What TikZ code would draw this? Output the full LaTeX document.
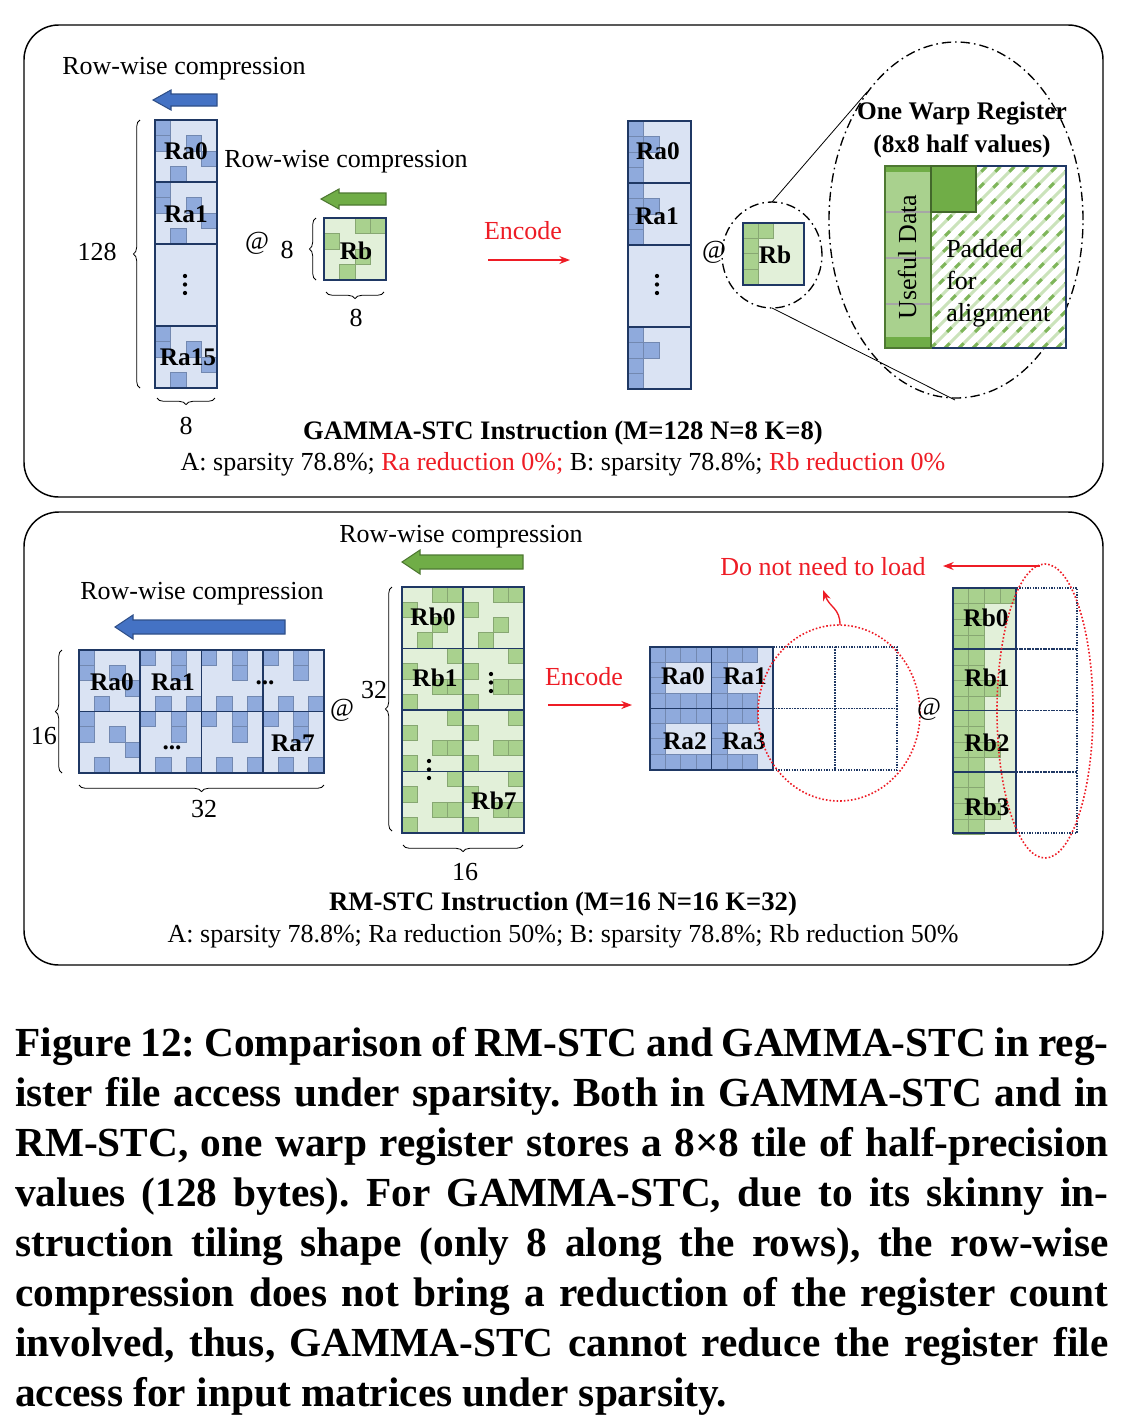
\documentclass[tikz,border=0pt]{standalone}
\usepackage{fontspec}
\setmainfont{Liberation Serif}
\usetikzlibrary{decorations.pathreplacing,arrows.meta}
\frenchspacing

\definecolor{navy}{HTML}{1F3864}
\definecolor{cellblue}{HTML}{DAE3F3}
\definecolor{sqblue}{HTML}{8FAADC}
\definecolor{arrblue}{HTML}{4472C4}
\definecolor{cellgreen}{HTML}{E2F0D9}
\definecolor{sqgreen}{HTML}{A9D18E}
\definecolor{arrgreen}{HTML}{70AD47}
\definecolor{myred}{HTML}{EE1C25}

% small squares inside a tile: x0, y0, size, style, list of col/row
\newcommand{\sqs}[5]{\foreach \cc/\rr in {#5} {\draw[#4] ({#1+\cc*#3},{#2+\rr*#3}) rectangle ++(#3,#3);}}
% block arrow pointing left: style, tip x, tail x, y, body half, head half
\newcommand{\blockarrow}[6]{\draw[#1] ({#3},{#4-#5}) -- ({#2+18},{#4-#5}) -- ({#2+18},{#4-#6}) -- ({#2},{#4}) -- ({#2+18},{#4+#6}) -- ({#2+18},{#4+#5}) -- ({#3},{#4+#5}) -- cycle;}
% vertical dots
\newcommand{\vdts}[2]{\foreach \dd in {0,1,2} {\fill ({#1},{#2+\dd*8.5}) circle[radius=1.6pt];}}

\begin{document}
\begin{tikzpicture}[x=0.75pt, y=-0.75pt,
    txt/.style={font=\fontsize{19.5}{22}\selectfont, inner sep=0pt},
    lbl/.style={font=\fontsize{19}{22}\selectfont\bfseries, inner sep=0pt},
    panel/.style={line width=1.1pt, rounded corners=26pt},
    acell/.style={fill=cellblue},
    bcell/.style={fill=cellgreen},
    grid/.style={draw=navy, line width=1.4pt},
    asq/.style={fill=sqblue, draw=sqblue!80!black, line width=0.5pt},
    bsq/.style={fill=sqgreen, draw=sqgreen!80!black, line width=0.5pt},
    dotcell/.style={draw=navy, line width=1.3pt, dash pattern=on 1pt off 1pt},
    brc/.style={decorate, decoration={brace, amplitude=5pt}, line width=0.6pt},
    bluearr/.style={fill=arrblue, draw=arrblue!70!black, line width=0.8pt},
    greenarr/.style={fill=arrgreen, draw=arrgreen!70!black, line width=0.8pt},
    redarr/.style={draw=myred, line width=1pt, -{Stealth[length=8pt]}},
    dashdot/.style={line width=1pt, dash pattern=on 7pt off 3pt on 1.2pt off 3pt},
    reddot/.style={draw=myred, line width=1.2pt, dash pattern=on 1.2pt off 1.5pt},
    caption/.style={text width=820pt, align=justify, inner sep=0pt,
      font=\fontsize{31}{37.5}\selectfont\bfseries}
  ]

  \fill[white] (0,0) rectangle (1122,1418);
  \useasboundingbox (0,0) rectangle (1122,1418);

  % Panels
  \draw[panel] (24,25) rectangle (1103,497);
  \draw[panel] (24,512) rectangle (1103,965);

  %%%%%%%%%%%%%%%% GAMMA-STC %%%%%%%%%%%%%%%%
  \node[txt] (rwa) at (184,69) {Row-wise compression};
  \blockarrow{bluearr}{153}{217}{100}{6}{10}

  % Ra column
  \foreach \y/\h in {120/62,182/62,244/82,326/62} {\fill[acell] (155,\y) rectangle ++(62,\h);}
  \sqs{155}{120}{15.5}{asq}{0/0,0/1,2/1,3/2,1/3}
  \sqs{155}{182}{15.5}{asq}{0/0,0/1,2/1,3/2,1/3}
  \sqs{155}{326}{15.5}{asq}{0/0,0/1,2/1,3/2,1/3}
  \foreach \y/\h in {120/62,182/62,244/82,326/62} {\draw[grid] (155,\y) rectangle ++(62,\h);}
  \node[lbl] (ra0) at (186,151) {Ra0};
  \node[lbl] (ra1) at (186,214) {Ra1};
  \vdts{185}{276}
  \node[lbl] (ra15) at (188,357) {Ra15};

  \draw[brc] (140,388) -- (140,120);
  \node[txt] (m128) at (97,252) {128};
  \draw[brc] (215,398) -- (157,398);
  \node[txt] (k8a) at (186,426) {8};

  % Rb
  \node[txt] (rwb) at (346,162) {Row-wise compression};
  \blockarrow{greenarr}{321}{386}{199}{6}{10}
  \node[txt] (at1) at (257,243) {@};
  \node[txt] (k8b) at (287,250) {8};
  \draw[brc] (316,280) -- (316,218);
  \fill[bcell] (324,218) rectangle (386,280);
  \sqs{324}{218}{15.5}{bsq}{2/0,3/0,0/1,2/2,1/3}
  \draw[grid] (324,218) rectangle (386,280);
  \node[lbl] (rb) at (356,251) {Rb};
  \draw[brc] (384,292) -- (326,292);
  \node[txt] (n8) at (356,318) {8};

  % Encode
  \node[txt, text=myred] (enc1) at (523,231) {Encode};
  \coordinate (e1s) at (488,260);
  \coordinate (e1e) at (570,260);
  \draw[redarr] (e1s) -- (e1e);

  % compressed Ra column
  \foreach \y/\h in {121/62,183/62,245/82,327/62} {\fill[acell] (628,\y) rectangle ++(63,\h);}
  \sqs{628}{121}{15.5}{asq}{0/0,0/1,0/2,0/3,1/1}
  \sqs{628}{183}{15.5}{asq}{0/0,0/1,0/2,0/3,1/1}
  \sqs{628}{327}{15.5}{asq}{0/0,0/1,0/2,0/3,1/1}
  \foreach \y/\h in {121/62,183/62,245/82,327/62} {\draw[grid] (628,\y) rectangle ++(63,\h);}
  \node[lbl] (rc0) at (658,151) {Ra0};
  \node[lbl] (rc1) at (657,216) {Ra1};
  \vdts{657}{276}

  \node[txt] (at2) at (714,252) {@};

  % compressed Rb and zoom
  \draw[dashdot] (772,255) ellipse [x radius=37.5pt, y radius=39.75pt];
  \fill[bcell] (743,223) rectangle (804,285);
  \sqs{743}{223}{15.3}{bsq}{0/0,0/1,0/2,0/3,1/0}
  \draw[grid] (743,223) rectangle (804,285);
  \node[lbl] (rbc) at (775,255) {Rb};

  \draw[dashdot] (956,220) ellipse [x radius=95.25pt, y radius=133.5pt];
  \coordinate (smt) at (772,202);
  \coordinate (smb) at (772,308);
  \coordinate (bgt) at (867,92);
  \coordinate (bgb) at (955,400);
  \draw[line width=0.6pt] (smt) -- (bgt);
  \draw[line width=0.6pt] (smb) -- (bgb);

  \node[lbl] (warp) at (962,114) {One Warp Register};
  \node[lbl] (half) at (962,146) {(8x8 half values)};

  % warp register
  \fill[white] (885,166) rectangle (1066,348);
  \begin{scope}
    \clip (931,166) rectangle (1066,348);
    \foreach \k in {-16,...,12} {
      \draw[sqgreen!60, line width=2.2pt] ({931+\k*14},348) -- ++(182,-182);
      \draw[arrgreen!90, line width=2.2pt, dash pattern=on 5pt off 12pt] ({931+\k*14},348) -- ++(182,-182);
    }
  \end{scope}
  \draw[navy, line width=0.8pt] (885,166) rectangle (1066,348);
  \fill[arrgreen] (885,166) rectangle (931,348);
  \fill[sqgreen] (885,172) rectangle (931,337);
  \draw[gray!70, line width=0.8pt] (885,212) -- (931,212) (885,258) -- (931,258) (885,304) -- (931,304);
  \draw[arrgreen!70!black, line width=0.8pt] (885,166) rectangle (931,348);
  \fill[arrgreen] (931,166) rectangle (976,212);
  \draw[arrgreen!60!black, line width=1pt] (931,166) rectangle (976,212);
  \node[txt, rotate=90] (useful) at (907,257) {Useful Data};
  \node[txt, align=left, anchor=west, font=\fontsize{19.5}{24}\selectfont] (pad) at (946,283) {Padded\\for\\alignment};

  \node[lbl, font=\fontsize{20}{22}\selectfont\bfseries] (gtitle) at (563,433) {GAMMA-STC Instruction (M=128 N=8 K=8)};
  \node[txt] (gstat) at (563,464) {A: sparsity 78.8\%; \textcolor{myred}{Ra reduction 0\%;} B: sparsity 78.8\%; \textcolor{myred}{Rb reduction 0\%}};

  %%%%%%%%%%%%%%%% RM-STC %%%%%%%%%%%%%%%%
  \node[txt] (rwc) at (461,537) {Row-wise compression};
  \blockarrow{greenarr}{402}{523}{562}{7}{12}
  \node[txt] (rwd) at (202,594) {Row-wise compression};
  \blockarrow{bluearr}{115}{285}{627}{7}{12}

  % Ra grid
  \foreach \j in {0,1} {
    \fill[acell] (79,{650+\j*61.5}) rectangle ++(61.25,61.5);
    \sqs{79}{650+\j*61.5}{15.3}{asq}{0/0,0/1,2/1,3/2,1/3}
    \foreach \i in {1,2,3} {
      \fill[acell] ({79+\i*61.25},{650+\j*61.5}) rectangle ++(61.25,61.5);
      \sqs{79+\i*61.25}{650+\j*61.5}{15.3}{asq}{0/0,2/0,2/1,1/3,3/3}
    }
  }
  \foreach \i in {0,...,3} {\foreach \j in {0,1} {\draw[grid] ({79+\i*61.25},{650+\j*61.5}) rectangle ++(61.25,61.5);}}
  \node[lbl] (sa0) at (112,682) {Ra0};
  \node[lbl] (sa1) at (173,682) {Ra1};
  \node[lbl, anchor=base] (sad1) at (265,684) {...};
  \node[lbl, anchor=base] (sad2) at (172,749) {...};
  \node[lbl] (sa7) at (293,743) {Ra7};
  \draw[brc] (62,773) -- (62,650);
  \node[txt] (m16) at (44,736) {16};
  \draw[brc] (324,785) -- (79,785);
  \node[txt] (k32) at (204,809) {32};
  \node[txt] (at3) at (342,710) {@};

  % Rb grid
  \foreach \j in {0,...,3} {\foreach \i in {0,1} {\fill[bcell] ({402+\i*61},{587+\j*61.5}) rectangle ++(61,61.5);}}
  \foreach \i in {0,1} {
    \sqs{402+\i*61}{587}{15.25}{bsq}{2/0,3/0,0/1,2/2,1/3}
    \foreach \j in {1,2,3} {\sqs{402+\i*61}{587+\j*61.5}{15.25}{bsq}{3/0,0/1,2/2,3/2,0/3}}
  }
  \foreach \j in {0,...,3} {\foreach \i in {0,1} {\draw[grid] ({402+\i*61},{587+\j*61.5}) rectangle ++(61,61.5);}}
  \node[lbl] (sb0) at (433,617) {Rb0};
  \node[lbl] (sb1) at (435,678) {Rb1};
  \vdts{491}{674}
  \vdts{429}{761}
  \node[lbl] (sb7) at (494,801) {Rb7};
  \draw[brc] (392,831) -- (392,587);
  \node[txt] (k32b) at (374,690) {32};
  \draw[brc] (523,845) -- (403,845);
  \node[txt] (n16) at (465,872) {16};

  % Encode
  \node[txt, text=myred] (enc2) at (584,677) {Encode};
  \coordinate (e2s) at (548,705);
  \coordinate (e2e) at (632,705);
  \draw[redarr] (e2s) -- (e2e);

  % compressed Ra
  \foreach \x/\y in {650/647,712/647,650/708,712/708} {\fill[acell] (\x,\y) rectangle ++(61.5,61.5);}
  \foreach \y in {647,708} {
    \sqs{650}{\y}{15.375}{asq}{0/0,1/0,2/0,3/0,0/1,0/2,0/3,1/3,2/3,3/3}
    \sqs{711.5}{\y}{15.375}{asq}{0/0,1/0,2/0,0/1,0/2,0/3,1/3,2/3}
  }
  \foreach \x/\y in {650/647,711.5/647,650/708.5,711.5/708.5} {\draw[grid] (\x,\y) rectangle ++(61.5,61.5);}
  \foreach \x/\y in {773/647,835/647,773/708.5,835/708.5} {\draw[dotcell] (\x,\y) rectangle ++(62,61.5);}
  \node[lbl] (ca0) at (683,676) {Ra0};
  \node[lbl] (ca1) at (745,676) {Ra1};
  \node[lbl] (ca2) at (685,741) {Ra2};
  \node[lbl] (ca3) at (744,741) {Ra3};
  \draw[reddot] (839,713) ellipse [x radius=60.75pt, y radius=66pt];

  \node[txt, text=myred] (noload) at (823,567) {Do not need to load};
  \coordinate (c1s) at (840,625);
  \coordinate (c1e) at (823,590);
  \draw[redarr] (c1s) .. controls (840,608) and (830,608) .. (c1e);

  \node[txt] (at4) at (929,709) {@};

  % compressed Rb
  \foreach \j in {0,...,3} {\fill[bcell] (953,{588+\j*61.25}) rectangle ++(63,61.25);}
  \sqs{953}{588}{15.75}{bsq}{0/0,1/0,2/0,3/0,0/1,1/1,0/2,1/2,0/3,1/3}
  \foreach \j in {1,2,3} {\sqs{953}{588+\j*61.25}{15.75}{bsq}{0/0,1/0,0/1,1/1,0/2,1/2,2/2,0/3,1/3}}
  \foreach \j in {0,...,3} {\draw[grid] (953,{588+\j*61.25}) rectangle ++(63,61.25);}
  \foreach \j in {0,...,3} {\draw[dotcell] (1016,{588+\j*61.25}) rectangle ++(61,61.25);}
  \node[lbl] (cb0) at (986,618) {Rb0};
  \node[lbl] (cb1) at (987,678) {Rb1};
  \node[lbl] (cb2) at (987,743) {Rb2};
  \node[lbl] (cb3) at (987,807) {Rb3};
  \draw[reddot] (1045,711) ellipse [x radius=36pt, y radius=110.25pt];
  \coordinate (c2s) at (1040,566);
  \coordinate (c2e) at (943,566);
  \draw[redarr] (c2s) -- (c2e);

  \node[lbl, font=\fontsize{20}{22}\selectfont\bfseries] (rtitle) at (563,904) {RM-STC Instruction (M=16 N=16 K=32)};
  \node[txt] (rstat) at (563,936) {A: sparsity 78.8\%; Ra reduction 50\%; B: sparsity 78.8\%; Rb reduction 50\%};

  % Caption
  \node[caption, anchor=north west] (cap) at (15,1027) {Figure 12: Comparison of RM-STC and GAMMA-STC in reg-\linebreak
    ister file access under sparsity. Both in GAMMA-STC and in\linebreak
    RM-STC, one warp register stores a 8×8 tile of half-precision\linebreak
    values (128 bytes). For GAMMA-STC, due to its skinny in-\linebreak
    struction tiling shape (only 8 along the rows), the row-wise\linebreak
    compression does not bring a reduction of the register count\linebreak
    involved, thus, GAMMA-STC cannot reduce the register file\linebreak
    access for input matrices under sparsity.};

\end{tikzpicture}
\end{document}
